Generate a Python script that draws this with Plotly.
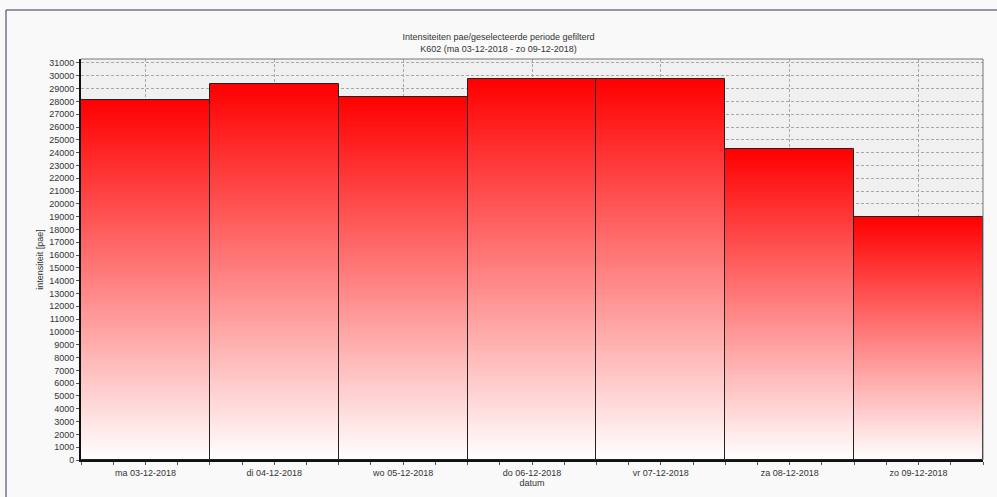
import plotly.graph_objects as go

categories = ["ma 03-12-2018", "di 04-12-2018", "wo 05-12-2018", "do 06-12-2018",
              "vr 07-12-2018", "za 08-12-2018", "zo 09-12-2018"]
values = [28080, 29330, 28320, 29780, 29780, 24260, 18940]
y_ticks = list(range(0, 31001, 1000))

title_line1 = "Intensiteiten pae/geselecteerde periode gefilterd"
title_line2 = "K602 (ma 03-12-2018 - zo 09-12-2018)"

FONT = "Liberation Sans, Arial, sans-serif"
N = 90
xs = list(range(len(categories)))

fig = go.Figure()
for k in range(N):
    t = (k + 0.5) / N
    g = int(round(255 * (1 - t)))
    fig.add_trace(go.Bar(
        x=xs,
        y=[v / N for v in values],
        base=[v * k / N for v in values],
        width=1,
        marker=dict(color=f"rgb(255,{g},{g})", line=dict(width=0)),
        showlegend=False, hoverinfo="skip",
    ))

fig.add_trace(go.Bar(
    x=xs, y=values, base=[0] * len(values), width=1,
    marker=dict(color="rgba(0,0,0,0)", line=dict(color="#222", width=1)),
    showlegend=False,
))

fig.update_layout(
    width=997, height=497,
    margin=dict(l=81, r=14, t=59, b=37),
    barmode="overlay", bargap=0,
    paper_bgcolor="#f9f9f9", plot_bgcolor="#f0f0f0",
    font=dict(family=FONT, size=9, color="#333"),
    title=dict(text=title_line1 + "<br>" + title_line2, x=0.5, xanchor="center",
               y=1 - 40 / 497, yanchor="top", font=dict(size=9, color="#333")),
    xaxis=dict(
        range=[-0.5, len(categories) - 0.5],
        tickvals=xs, ticktext=categories,
        showgrid=True, gridcolor="#a8a8a8", griddash="3px,2px", gridwidth=1,
        ticks="outside", ticklen=3, tickcolor="#555",
        minor=dict(dtick=0.25, tick0=-0.5, ticks="outside", ticklen=3, tickcolor="#555", showgrid=False),
        showline=True, linecolor="#111", linewidth=2,
        title=dict(text="datum", standoff=2, font=dict(size=9)),
        zeroline=False, tickfont=dict(size=9),
    ),
    yaxis=dict(
        range=[0, 31310],
        tickvals=y_ticks, ticktext=[str(v) for v in y_ticks],
        showgrid=True, gridcolor="#a8a8a8", griddash="3px,2px", gridwidth=1,
        ticks="outside", ticklen=3, tickcolor="#555",
        showline=True, linecolor="#111", linewidth=2,
        title=dict(text="intensiteit [pae]", standoff=4, font=dict(size=9)),
        zeroline=False, tickfont=dict(size=9),
    ),
    shapes=[
        dict(type="line", xref="paper", yref="paper", x0=0, x1=1, y0=1, y1=1,
             line=dict(color="#777", width=1), layer="above"),
        dict(type="line", xref="paper", yref="paper", x0=1, x1=1, y0=0, y1=1,
             line=dict(color="#777", width=1), layer="above"),
        dict(type="line", xref="paper", yref="paper", x0=-75 / 902, x1=1 + 14 / 902,
             y0=1 + 49 / 401, y1=1 + 49 / 401, line=dict(color="#33305a", width=1)),
        dict(type="line", xref="paper", yref="paper", x0=-75 / 902, x1=-75 / 902,
             y0=1 + 49 / 401, y1=-37 / 401, line=dict(color="#33305a", width=1)),
    ],
)

fig.write_html("out.html")
